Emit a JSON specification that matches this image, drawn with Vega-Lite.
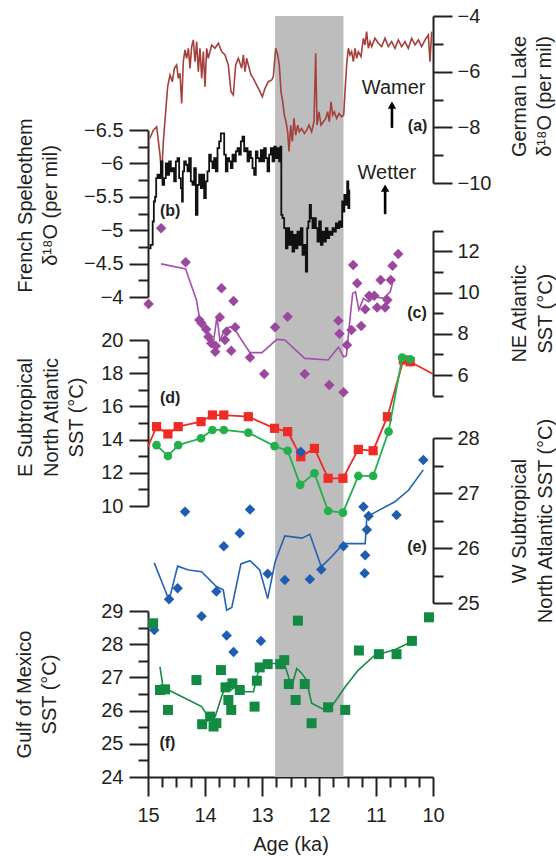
{
  "$schema": "https://vega.github.io/schema/vega-lite/v6.json",
  "width": 285,
  "height": 761,
  "autosize": {"type": "none"},
  "padding": {"left": 148, "top": 16, "right": 123, "bottom": 79},
  "background": "white",
  "config": {
    "view": {"stroke": null},
    "font": "Liberation Sans",
    "axis": {
      "labelFont": "Liberation Sans", "titleFont": "Liberation Sans",
      "labelFontSize": 20, "titleFontSize": 20, "titleFontWeight": "normal",
      "labelColor": "#231f20", "titleColor": "#231f20",
      "domainColor": "#231f20", "tickColor": "#231f20",
      "domainWidth": 2, "tickWidth": 2, "grid": false,
      "labelOverlap": false, "labelFlush": false, "titleLineHeight": 25.5
    }
  },
  "datasets": {
    "band": [{"age": 12.77, "age2": 11.57}],
    "german": [
      {"age":14.97,"v":-8.4},{"age":14.906,"v":-8.1},{"age":14.848,"v":-7.98},{"age":14.789,"v":-8.99},{"age":14.76,"v":-9.71},{"age":14.731,"v":-8.51},{"age":14.69,"v":-7.44},{"age":14.655,"v":-6.54},{"age":14.614,"v":-6.12},{"age":14.573,"v":-6.36},{"age":14.538,"v":-5.88},{"age":14.497,"v":-5.76},{"age":14.468,"v":-6.24},{"age":14.439,"v":-6.06},{"age":14.409,"v":-7.14},{"age":14.38,"v":-5.64},{"age":14.351,"v":-5.22},{"age":14.322,"v":-5.52},{"age":14.292,"v":-5.16},{"age":14.263,"v":-5.88},{"age":14.234,"v":-5.1},{"age":14.205,"v":-4.86},{"age":14.175,"v":-5.64},{"age":14.146,"v":-4.92},{"age":14.117,"v":-6.0},{"age":14.088,"v":-5.16},{"age":14.058,"v":-6.24},{"age":14.029,"v":-5.28},{"age":14.0,"v":-6.54},{"age":13.971,"v":-5.16},{"age":13.942,"v":-5.52},{"age":13.883,"v":-5.04},{"age":13.825,"v":-5.16},{"age":13.766,"v":-4.98},{"age":13.708,"v":-5.28},{"age":13.649,"v":-5.4},{"age":13.591,"v":-5.76},{"age":13.544,"v":-6.72},{"age":13.503,"v":-6.84},{"age":13.462,"v":-5.76},{"age":13.415,"v":-5.52},{"age":13.357,"v":-5.88},{"age":13.327,"v":-5.4},{"age":13.298,"v":-6.0},{"age":13.269,"v":-5.52},{"age":13.24,"v":-5.76},{"age":13.193,"v":-6.12},{"age":13.152,"v":-6.24},{"age":13.094,"v":-6.48},{"age":13.035,"v":-6.72},{"age":12.994,"v":-6.9},{"age":12.947,"v":-6.6},{"age":12.889,"v":-6.36},{"age":12.83,"v":-6.3},{"age":12.801,"v":-6.18},{"age":12.76,"v":-5.16},{"age":12.725,"v":-5.4},{"age":12.696,"v":-5.76},{"age":12.667,"v":-6.72},{"age":12.637,"v":-7.08},{"age":12.608,"v":-7.56},{"age":12.579,"v":-7.8},{"age":12.55,"v":-8.16},{"age":12.526,"v":-8.87},{"age":12.497,"v":-7.92},{"age":12.468,"v":-8.51},{"age":12.439,"v":-7.68},{"age":12.409,"v":-8.28},{"age":12.374,"v":-7.92},{"age":12.345,"v":-8.16},{"age":12.304,"v":-8.04},{"age":12.257,"v":-8.22},{"age":12.216,"v":-8.1},{"age":12.175,"v":-7.92},{"age":12.129,"v":-8.16},{"age":12.088,"v":-7.8},{"age":12.058,"v":-5.34},{"age":12.035,"v":-7.92},{"age":12.0,"v":-7.44},{"age":11.965,"v":-7.92},{"age":11.924,"v":-7.8},{"age":11.883,"v":-7.68},{"age":11.848,"v":-7.44},{"age":11.819,"v":-7.8},{"age":11.789,"v":-7.08},{"age":11.76,"v":-7.56},{"age":11.731,"v":-7.44},{"age":11.69,"v":-7.68},{"age":11.649,"v":-7.5},{"age":11.602,"v":-7.62},{"age":11.567,"v":-7.56},{"age":11.544,"v":-6.72},{"age":11.515,"v":-5.76},{"age":11.485,"v":-5.16},{"age":11.456,"v":-5.4},{"age":11.427,"v":-5.28},{"age":11.398,"v":-5.64},{"age":11.368,"v":-5.16},{"age":11.339,"v":-5.52},{"age":11.31,"v":-5.28},{"age":11.263,"v":-5.46},{"age":11.222,"v":-4.8},{"age":11.193,"v":-5.04},{"age":11.164,"v":-4.56},{"age":11.135,"v":-5.16},{"age":11.105,"v":-4.92},{"age":11.076,"v":-5.1},{"age":11.018,"v":-4.8},{"age":10.959,"v":-4.98},{"age":10.901,"v":-5.1},{"age":10.842,"v":-4.8},{"age":10.784,"v":-5.1},{"age":10.725,"v":-4.92},{"age":10.667,"v":-5.16},{"age":10.608,"v":-4.86},{"age":10.55,"v":-5.1},{"age":10.491,"v":-4.92},{"age":10.433,"v":-5.16},{"age":10.374,"v":-4.8},{"age":10.316,"v":-5.04},{"age":10.257,"v":-4.86},{"age":10.199,"v":-5.1},{"age":10.14,"v":-4.86},{"age":10.082,"v":-4.68},{"age":10.053,"v":-5.64},{"age":10.023,"v":-4.56}
    ],
    "french": [
      {"age":14.98,"v":-4.73},{"age":14.93,"v":-4.78},{"age":14.906,"v":-5.13},{"age":14.889,"v":-5.43},{"age":14.865,"v":-5.5},{"age":14.848,"v":-5.78},{"age":14.819,"v":-5.83},{"age":14.789,"v":-5.78},{"age":14.76,"v":-6.03},{"age":14.731,"v":-5.68},{"age":14.702,"v":-5.78},{"age":14.673,"v":-6.0},{"age":14.643,"v":-5.83},{"age":14.614,"v":-6.03},{"age":14.585,"v":-5.88},{"age":14.556,"v":-5.93},{"age":14.526,"v":-5.73},{"age":14.497,"v":-6.03},{"age":14.468,"v":-6.08},{"age":14.439,"v":-5.78},{"age":14.409,"v":-5.63},{"age":14.398,"v":-5.43},{"age":14.38,"v":-5.88},{"age":14.351,"v":-6.03},{"age":14.322,"v":-5.98},{"age":14.292,"v":-5.88},{"age":14.263,"v":-6.08},{"age":14.234,"v":-5.73},{"age":14.205,"v":-5.68},{"age":14.175,"v":-5.93},{"age":14.146,"v":-5.23},{"age":14.117,"v":-5.68},{"age":14.088,"v":-5.83},{"age":14.058,"v":-5.63},{"age":14.029,"v":-5.83},{"age":14.0,"v":-5.48},{"age":13.971,"v":-5.73},{"age":13.942,"v":-5.88},{"age":13.912,"v":-6.13},{"age":13.883,"v":-6.03},{"age":13.854,"v":-5.93},{"age":13.825,"v":-6.08},{"age":13.795,"v":-5.88},{"age":13.766,"v":-6.23},{"age":13.737,"v":-6.33},{"age":13.708,"v":-6.45},{"age":13.678,"v":-6.45},{"age":13.649,"v":-6.13},{"age":13.62,"v":-5.88},{"age":13.591,"v":-6.08},{"age":13.561,"v":-6.03},{"age":13.532,"v":-5.93},{"age":13.503,"v":-6.13},{"age":13.474,"v":-6.03},{"age":13.444,"v":-6.18},{"age":13.415,"v":-6.23},{"age":13.386,"v":-6.13},{"age":13.357,"v":-6.33},{"age":13.327,"v":-6.4},{"age":13.298,"v":-6.18},{"age":13.269,"v":-6.23},{"age":13.24,"v":-6.03},{"age":13.211,"v":-6.18},{"age":13.181,"v":-6.08},{"age":13.152,"v":-5.93},{"age":13.123,"v":-5.83},{"age":13.094,"v":-6.18},{"age":13.064,"v":-6.08},{"age":13.035,"v":-6.03},{"age":13.006,"v":-6.2},{"age":12.977,"v":-6.03},{"age":12.947,"v":-6.23},{"age":12.918,"v":-6.08},{"age":12.889,"v":-5.88},{"age":12.86,"v":-6.13},{"age":12.83,"v":-6.23},{"age":12.801,"v":-6.03},{"age":12.772,"v":-6.25},{"age":12.743,"v":-6.08},{"age":12.713,"v":-6.23},{"age":12.684,"v":-6.03},{"age":12.667,"v":-6.25},{"age":12.655,"v":-5.23},{"age":12.626,"v":-5.18},{"age":12.596,"v":-5.03},{"age":12.567,"v":-4.73},{"age":12.538,"v":-5.03},{"age":12.509,"v":-4.78},{"age":12.48,"v":-4.98},{"age":12.45,"v":-4.68},{"age":12.421,"v":-4.93},{"age":12.392,"v":-4.73},{"age":12.363,"v":-4.98},{"age":12.333,"v":-4.78},{"age":12.304,"v":-5.03},{"age":12.275,"v":-4.63},{"age":12.246,"v":-4.78},{"age":12.216,"v":-4.38},{"age":12.199,"v":-5.03},{"age":12.175,"v":-5.13},{"age":12.152,"v":-5.38},{"age":12.129,"v":-5.18},{"age":12.099,"v":-5.03},{"age":12.07,"v":-5.18},{"age":12.041,"v":-5.03},{"age":12.012,"v":-4.83},{"age":11.982,"v":-5.13},{"age":11.953,"v":-4.78},{"age":11.924,"v":-4.98},{"age":11.895,"v":-4.83},{"age":11.865,"v":-5.03},{"age":11.836,"v":-4.88},{"age":11.807,"v":-4.98},{"age":11.778,"v":-4.93},{"age":11.748,"v":-5.03},{"age":11.719,"v":-4.98},{"age":11.69,"v":-5.1},{"age":11.661,"v":-5.03},{"age":11.632,"v":-5.13},{"age":11.602,"v":-5.05},{"age":11.585,"v":-5.43},{"age":11.567,"v":-5.28},{"age":11.544,"v":-5.53},{"age":11.515,"v":-5.38},{"age":11.497,"v":-5.73},{"age":11.474,"v":-5.33},{"age":11.462,"v":-5.6}
    ],
    "ne_pts": [
      {"age":14.99,"v":9.45},{"age":14.77,"v":13.12},{"age":14.34,"v":11.47},{"age":13.71,"v":10.21},{"age":13.5,"v":9.59},{"age":14.1,"v":8.67},{"age":14.06,"v":8.51},{"age":13.98,"v":8.22},{"age":13.94,"v":7.86},{"age":13.89,"v":7.54},{"age":13.82,"v":7.13},{"age":13.81,"v":7.41},{"age":13.74,"v":8.8},{"age":13.65,"v":7.7},{"age":13.62,"v":8.11},{"age":13.54,"v":7.18},{"age":13.47,"v":8.32},{"age":13.21,"v":6.85},{"age":12.96,"v":6.05},{"age":12.77,"v":8.32},{"age":12.55,"v":8.83},{"age":12.25,"v":6.05},{"age":11.82,"v":5.52},{"age":11.57,"v":5.17},{"age":11.66,"v":8.64},{"age":11.64,"v":8.0},{"age":11.51,"v":7.46},{"age":11.43,"v":8.19},{"age":11.26,"v":8.38},{"age":11.4,"v":11.34},{"age":11.33,"v":10.45},{"age":11.19,"v":9.19},{"age":11.12,"v":9.85},{"age":11.03,"v":9.85},{"age":10.98,"v":9.28},{"age":10.92,"v":10.61},{"age":10.84,"v":9.28},{"age":10.8,"v":9.64},{"age":10.74,"v":10.61},{"age":10.71,"v":11.3},{"age":10.61,"v":11.87}
    ],
    "ne_line": [
      {"age":14.77,"v":11.39},{"age":14.34,"v":11.14},{"age":14.15,"v":9.64},{"age":14.09,"v":8.67},{"age":14.0,"v":8.27},{"age":13.91,"v":7.9},{"age":13.85,"v":7.62},{"age":13.79,"v":8.83},{"age":13.74,"v":7.7},{"age":13.65,"v":8.19},{"age":13.56,"v":8.35},{"age":13.47,"v":8.19},{"age":13.36,"v":7.7},{"age":13.21,"v":7.09},{"age":13.0,"v":7.09},{"age":12.74,"v":7.73},{"age":12.6,"v":7.7},{"age":12.25,"v":6.81},{"age":11.84,"v":6.73},{"age":11.66,"v":7.35},{"age":11.57,"v":6.89},{"age":11.52,"v":6.93},{"age":11.47,"v":8.35},{"age":11.41,"v":9.96},{"age":11.36,"v":10.04},{"age":11.3,"v":9.16},{"age":11.22,"v":9.72},{"age":11.13,"v":9.56},{"age":11.02,"v":9.8},{"age":10.87,"v":9.72},{"age":10.75,"v":10.04},{"age":10.69,"v":10.69}
    ],
    "e_red_line": [
      {"age":15.0,"v":13.57},{"age":14.85,"v":14.78},{"age":14.65,"v":14.34},{"age":14.47,"v":14.78},{"age":14.07,"v":15.08},{"age":13.87,"v":15.48},{"age":13.67,"v":15.48},{"age":13.24,"v":15.38},{"age":12.78,"v":14.68},{"age":12.55,"v":14.48},{"age":12.32,"v":12.97},{"age":12.08,"v":13.47},{"age":11.84,"v":11.67},{"age":11.58,"v":11.67},{"age":11.31,"v":13.41},{"age":11.05,"v":13.33},{"age":10.8,"v":15.38},{"age":10.52,"v":18.8},{"age":10.4,"v":18.69},{"age":10.0,"v":17.95}
    ],
    "e_red_pts": [
      {"age":14.85,"v":14.78},{"age":14.65,"v":14.34},{"age":14.47,"v":14.78},{"age":14.07,"v":15.08},{"age":13.87,"v":15.48},{"age":13.67,"v":15.48},{"age":13.24,"v":15.38},{"age":12.78,"v":14.68},{"age":12.55,"v":14.48},{"age":12.32,"v":12.97},{"age":12.08,"v":13.47},{"age":11.84,"v":11.67},{"age":11.58,"v":11.67},{"age":11.31,"v":13.41},{"age":11.05,"v":13.33},{"age":10.8,"v":15.38},{"age":10.52,"v":18.8},{"age":10.4,"v":18.69}
    ],
    "e_green": [
      {"age":14.85,"v":13.67},{"age":14.65,"v":13.01},{"age":14.47,"v":13.67},{"age":14.07,"v":14.08},{"age":13.87,"v":14.58},{"age":13.67,"v":14.58},{"age":13.24,"v":14.42},{"age":12.78,"v":13.61},{"age":12.55,"v":13.33},{"age":12.33,"v":11.27},{"age":12.08,"v":11.97},{"age":11.84,"v":9.7},{"age":11.58,"v":9.6},{"age":11.31,"v":11.81},{"age":11.05,"v":11.81},{"age":10.78,"v":14.48},{"age":10.54,"v":18.94},{"age":10.4,"v":18.84}
    ],
    "w_pts": [
      {"age":14.35,"v":26.66},{"age":13.21,"v":26.7},{"age":11.22,"v":26.75},{"age":11.13,"v":26.58},{"age":10.64,"v":26.6},{"age":10.17,"v":27.6},{"age":12.32,"v":27.75},{"age":13.39,"v":26.27},{"age":13.67,"v":26.03},{"age":11.16,"v":26.33},{"age":11.57,"v":26.03},{"age":11.19,"v":25.87},{"age":11.2,"v":25.54},{"age":11.96,"v":25.61},{"age":12.16,"v":25.43},{"age":12.6,"v":25.42},{"age":12.9,"v":25.53},{"age":13.8,"v":25.21},{"age":14.48,"v":25.27},{"age":14.63,"v":25.07},{"age":14.06,"v":24.76},{"age":14.89,"v":24.51},{"age":13.62,"v":24.41},{"age":13.5,"v":24.11},{"age":13.02,"v":24.31}
    ],
    "w_line": [
      {"age":14.89,"v":25.73},{"age":14.63,"v":25.05},{"age":14.48,"v":25.67},{"age":14.29,"v":25.6},{"age":14.06,"v":25.57},{"age":13.8,"v":25.3},{"age":13.68,"v":25.24},{"age":13.62,"v":24.87},{"age":13.53,"v":24.92},{"age":13.37,"v":25.71},{"age":13.21,"v":25.77},{"age":13.04,"v":25.6},{"age":12.9,"v":25.08},{"age":12.77,"v":25.75},{"age":12.6,"v":26.22},{"age":12.3,"v":26.18},{"age":12.16,"v":26.25},{"age":11.96,"v":25.66},{"age":11.78,"v":25.84},{"age":11.57,"v":26.08},{"age":11.19,"v":26.08},{"age":11.16,"v":26.57},{"age":10.96,"v":26.68},{"age":10.67,"v":26.84},{"age":10.43,"v":27.05},{"age":10.17,"v":27.42}
    ],
    "g_pts": [
      {"age":14.91,"v":28.63},{"age":14.79,"v":26.62},{"age":14.7,"v":26.64},{"age":14.65,"v":26.02},{"age":14.15,"v":26.92},{"age":14.05,"v":25.59},{"age":13.91,"v":25.82},{"age":13.85,"v":25.52},{"age":13.8,"v":25.62},{"age":13.72,"v":27.22},{"age":13.64,"v":26.7},{"age":13.59,"v":26.32},{"age":13.54,"v":26.02},{"age":13.52,"v":26.82},{"age":13.39,"v":26.62},{"age":13.13,"v":26.12},{"age":13.09,"v":26.9},{"age":13.04,"v":27.3},{"age":12.9,"v":27.4},{"age":12.68,"v":27.4},{"age":12.61,"v":27.52},{"age":12.53,"v":26.8},{"age":12.41,"v":26.32},{"age":12.37,"v":28.71},{"age":12.25,"v":26.8},{"age":12.13,"v":25.62},{"age":11.84,"v":26.1},{"age":11.54,"v":26.02},{"age":11.3,"v":27.81},{"age":10.95,"v":27.7},{"age":10.64,"v":27.7},{"age":10.37,"v":28.1},{"age":10.07,"v":28.81}
    ],
    "g_line": [
      {"age":14.79,"v":27.32},{"age":14.73,"v":26.64},{"age":14.64,"v":26.62},{"age":14.35,"v":26.37},{"age":14.06,"v":26.12},{"age":13.91,"v":25.72},{"age":13.82,"v":25.82},{"age":13.71,"v":26.42},{"age":13.62,"v":26.82},{"age":13.54,"v":26.62},{"age":13.47,"v":26.72},{"age":13.3,"v":26.57},{"age":13.15,"v":26.57},{"age":13.06,"v":27.22},{"age":13.01,"v":27.32},{"age":12.89,"v":27.42},{"age":12.71,"v":27.42},{"age":12.6,"v":27.37},{"age":12.48,"v":26.72},{"age":12.39,"v":27.27},{"age":12.3,"v":27.12},{"age":12.22,"v":26.92},{"age":12.13,"v":26.22},{"age":11.84,"v":25.97},{"age":11.54,"v":26.72},{"age":11.31,"v":27.22},{"age":11.02,"v":27.67},{"age":10.67,"v":27.83},{"age":10.37,"v":28.08}
    ],
    "txt_a": [{"age":10.69,"v":-6.59,"t":"Wamer"}],
    "let_a": [{"age":10.27,"v":-7.95,"t":"(a)"}],
    "shaft_a": [{"age":10.72,"v":-8.02,"v2":-7.25}],
    "head_a": [{"age":10.72,"v":-7.2}],
    "txt_b": [{"age":10.81,"v":-5.85,"t":"Wetter"}],
    "let_b": [{"age":14.61,"v":-5.28,"t":"(b)"}],
    "shaft_b": [{"age":10.84,"v":-5.24,"v2":-5.6}],
    "head_b": [{"age":10.84,"v":-5.63}],
    "let_c": [{"age":10.28,"v":9.0,"t":"(c)"}],
    "let_d": [{"age":14.61,"v":16.49,"t":"(d)"}],
    "let_e": [{"age":10.28,"v":26.02,"t":"(e)"}],
    "let_f": [{"age":14.66,"v":25.03,"t":"(f)"}]
  },
  "encoding": {
    "x": {"field": "age", "type": "quantitative", "scale": {"domain": [10, 15], "reverse": true, "nice": false, "zero": false}, "axis": null}
  },
  "layer": [
    {
      "data": {"name": "band"},
      "mark": {"type": "rect", "color": "#bdbdbd"},
      "encoding": {
        "x": {"field": "age", "type": "quantitative", "scale": {"domain": [10, 15], "reverse": true, "nice": false, "zero": false},
          "axis": {"orient": "bottom", "values": [10,10.25,10.5,10.75,11,11.25,11.5,11.75,12,12.25,12.5,12.75,13,13.25,13.5,13.75,14,14.25,14.5,14.75,15], "format": "~r",
            "labelExpr": "datum.value % 1 === 0 ? datum.label : ''", "tickSize": {"expr": "datum.value % 1 === 0 ? 19 : 10"}, "labelPadding": 9, "title": "Age (ka)", "titlePadding": 9}},
        "x2": {"field": "age2"}
      }
    },
    {
      "encoding": {"y": {"field": "v", "type": "quantitative", "scale": {"domain": [-10, -4], "range": [167, 0], "nice": false, "zero": false},
        "axis": {"orient": "right", "values": [-10,-9,-8,-7,-6,-5,-4], "format": "~r", "labelExpr": "datum.value % 2 === 0 ? datum.label : ''",
          "tickSize": {"expr": "datum.value % 2 === 0 ? 19 : 10"}, "labelPadding": 5, "title": ["German Lake", "δ¹⁸O (per mil)"], "titleAngle": 270, "titleBaseline": "top", "titlePadding": -7, "titleY": 80}}},
      "layer": [
        {"data": {"name": "german"}, "mark": {"type": "line", "color": "#a5403c", "strokeWidth": 1.6},
          "encoding": {"x": {"field": "age", "type": "quantitative", "scale": {"domain": [10, 15], "reverse": true, "nice": false, "zero": false},
            "axis": {"orient": "top", "values": [10,10.25,10.5,10.75,11,11.25,11.5,11.75,12,12.25,12.5,12.75,13,13.25,13.5,13.75,14,14.25,14.5,14.75,15], "labels": false, "title": null,
              "tickSize": {"expr": "datum.value % 1 === 0 ? -19 : -10"}}}}},
        {"data": {"name": "txt_a"}, "mark": {"type": "text", "fontSize": 20, "color": "#231f20", "align": "center", "baseline": "middle"}, "encoding": {"text": {"field": "t"}}},
        {"data": {"name": "let_a"}, "mark": {"type": "text", "fontSize": 16, "fontWeight": "bold", "color": "#231f20", "align": "center", "baseline": "middle"}, "encoding": {"text": {"field": "t"}}},
        {"data": {"name": "shaft_a"}, "mark": {"type": "rule", "color": "#000", "strokeWidth": 2.6}, "encoding": {"y2": {"field": "v2"}}},
        {"data": {"name": "head_a"}, "mark": {"type": "point", "shape": "triangle-up", "filled": true, "size": 70, "color": "#000", "opacity": 1}}
      ]
    },
    {
      "encoding": {"y": {"field": "v", "type": "quantitative", "scale": {"domain": [-6.5, -4], "range": [114, 281], "nice": false, "zero": false},
        "axis": {"orient": "left", "values": [-6.5,-6.25,-6,-5.75,-5.5,-5.25,-5,-4.75,-4.5,-4.25,-4], "format": "~r", "labelExpr": "(datum.value * 2) % 1 === 0 ? datum.label : ''",
          "tickSize": {"expr": "(datum.value * 2) % 1 === 0 ? 19 : 10"}, "labelPadding": 6, "title": ["French Speleothem", "δ¹⁸O (per mil)"], "titlePadding": 23, "titleY": 189}}},
      "layer": [
        {"data": {"name": "french"}, "mark": {"type": "line", "color": "#111111", "strokeWidth": 1.8, "interpolate": "step"}},
        {"data": {"name": "txt_b"}, "mark": {"type": "text", "fontSize": 20, "color": "#231f20", "align": "center", "baseline": "middle"}, "encoding": {"text": {"field": "t"}}},
        {"data": {"name": "let_b"}, "mark": {"type": "text", "fontSize": 16, "fontWeight": "bold", "color": "#231f20", "align": "center", "baseline": "middle"}, "encoding": {"text": {"field": "t"}}},
        {"data": {"name": "shaft_b"}, "mark": {"type": "rule", "color": "#000", "strokeWidth": 2.6}, "encoding": {"y2": {"field": "v2"}}},
        {"data": {"name": "head_b"}, "mark": {"type": "point", "shape": "triangle-up", "filled": true, "size": 70, "color": "#000", "opacity": 1}}
      ]
    },
    {
      "encoding": {"y": {"field": "v", "type": "quantitative", "scale": {"domain": [5, 13], "range": [379.7, 214.7], "nice": false, "zero": false},
        "axis": {"orient": "right", "values": [5,6,7,8,9,10,11,12,13], "format": "~r", "labelExpr": "datum.value % 2 === 0 ? datum.label : ''",
          "tickSize": {"expr": "datum.value % 2 === 0 ? 19 : 10"}, "labelPadding": 5, "title": ["NE Atlantic", "SST (°C)"], "titleAngle": 270, "titleBaseline": "top", "titlePadding": 5}}},
      "layer": [
        {"data": {"name": "ne_line"}, "mark": {"type": "line", "color": "#a251a8", "strokeWidth": 1.6}},
        {"data": {"name": "ne_pts"}, "mark": {"type": "point", "shape": "diamond", "filled": true, "size": 110, "color": "#9b479f", "opacity": 1}},
        {"data": {"name": "let_c"}, "mark": {"type": "text", "fontSize": 16, "fontWeight": "bold", "color": "#231f20", "align": "center", "baseline": "middle"}, "encoding": {"text": {"field": "t"}}}
      ]
    },
    {
      "encoding": {"y": {"field": "v", "type": "quantitative", "scale": {"domain": [10, 20], "range": [490, 324], "nice": false, "zero": false},
        "axis": {"orient": "left", "values": [10,11,12,13,14,15,16,17,18,19,20], "format": "~r", "labelExpr": "datum.value % 2 === 0 ? datum.label : ''",
          "tickSize": {"expr": "datum.value % 2 === 0 ? 19 : 10"}, "labelPadding": 6, "title": ["E Subtropical", "North Atlantic", "SST (°C)"], "titlePadding": 14, "titleY": 401}}},
      "layer": [
        {"data": {"name": "e_red_line"}, "mark": {"type": "line", "color": "#ee2b24", "strokeWidth": 1.8}},
        {"data": {"name": "e_red_pts"}, "mark": {"type": "point", "shape": "square", "filled": true, "size": 85, "color": "#ee2b24", "opacity": 1}},
        {"data": {"name": "e_green"}, "mark": {"type": "line", "color": "#22b04b", "strokeWidth": 1.8}},
        {"data": {"name": "e_green"}, "mark": {"type": "point", "shape": "circle", "filled": true, "size": 75, "color": "#22b04b", "opacity": 1}},
        {"data": {"name": "let_d"}, "mark": {"type": "text", "fontSize": 16, "fontWeight": "bold", "color": "#231f20", "align": "center", "baseline": "middle"}, "encoding": {"text": {"field": "t"}}}
      ]
    },
    {
      "encoding": {"y": {"field": "v", "type": "quantitative", "scale": {"domain": [25, 28], "range": [587, 422], "nice": false, "zero": false},
        "axis": {"orient": "right", "values": [25,25.5,26,26.5,27,27.5,28], "format": "~r", "labelExpr": "datum.value % 1 === 0 ? datum.label : ''",
          "tickSize": {"expr": "datum.value % 1 === 0 ? 19 : 10"}, "labelPadding": 5, "title": ["W Subtropical", "North Atlantic SST (°C)"], "titleAngle": 270, "titleBaseline": "top", "titlePadding": 5}}},
      "layer": [
        {"data": {"name": "w_line"}, "mark": {"type": "line", "color": "#2462b3", "strokeWidth": 1.6}},
        {"data": {"name": "w_pts"}, "mark": {"type": "point", "shape": "diamond", "filled": true, "size": 110, "color": "#1f5db0", "opacity": 1}},
        {"data": {"name": "let_e"}, "mark": {"type": "text", "fontSize": 16, "fontWeight": "bold", "color": "#231f20", "align": "center", "baseline": "middle"}, "encoding": {"text": {"field": "t"}}}
      ]
    },
    {
      "encoding": {"y": {"field": "v", "type": "quantitative", "scale": {"domain": [24, 29], "range": [761, 595], "nice": false, "zero": false},
        "axis": {"orient": "left", "values": [24,24.5,25,25.5,26,26.5,27,27.5,28,28.5,29], "format": "~r", "labelExpr": "datum.value % 1 === 0 ? datum.label : ''",
          "tickSize": {"expr": "datum.value % 1 === 0 ? 19 : 10"}, "labelPadding": 6, "title": ["Gulf of Mexico", "SST (°C)"], "titlePadding": 41}}},
      "layer": [
        {"data": {"name": "g_line"}, "mark": {"type": "line", "color": "#178a43", "strokeWidth": 1.6}},
        {"data": {"name": "g_pts"}, "mark": {"type": "point", "shape": "square", "filled": true, "size": 100, "color": "#138a42", "opacity": 1}},
        {"data": {"name": "let_f"}, "mark": {"type": "text", "fontSize": 16, "fontWeight": "bold", "color": "#231f20", "align": "center", "baseline": "middle"}, "encoding": {"text": {"field": "t"}}}
      ]
    }
  ],
  "resolve": {"scale": {"y": "independent"}, "axis": {"y": "independent", "x": "independent"}}
}
